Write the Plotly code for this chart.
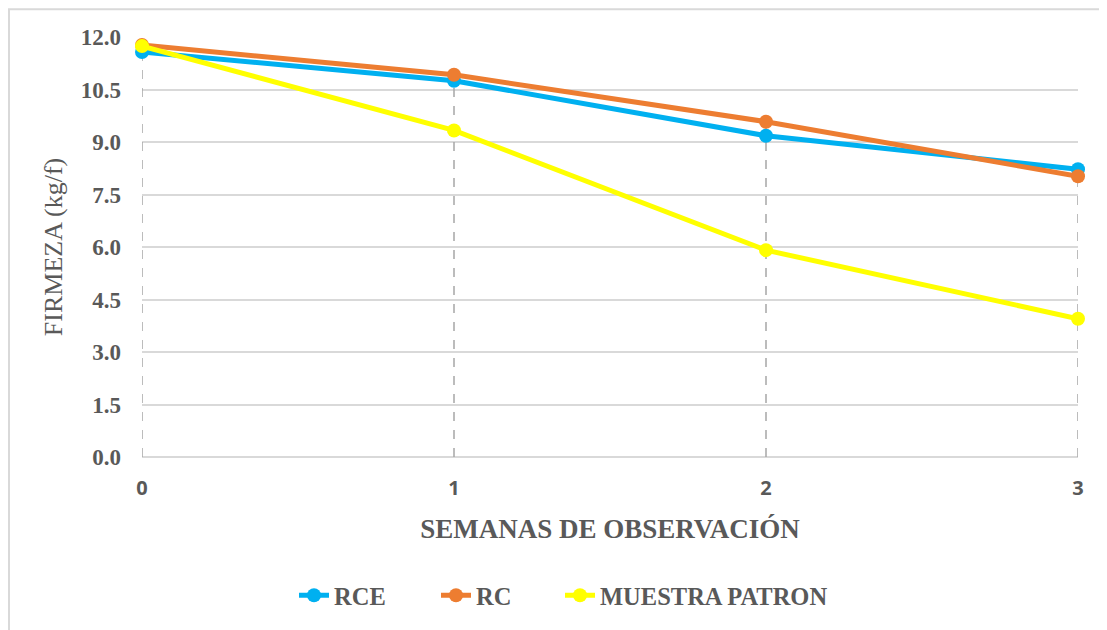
import plotly.graph_objects as go

# Weeks of observation
semanas = [0, 1, 2, 3]

# Firmness values (kg/f) per treatment
rce = [11.57, 10.75, 9.18, 8.22]
rc = [11.77, 10.92, 9.58, 8.02]
muestra_patron = [11.74, 9.33, 5.91, 3.95]

y_ticks = [0.0, 1.5, 3.0, 4.5, 6.0, 7.5, 9.0, 10.5, 12.0]

SERIES_COLORS = {
    "RCE": "#00B0F0",
    "RC": "#ED7D31",
    "MUESTRA PATRON": "#FFFF00",
}

TEXT_COLOR = "#595959"
SERIF = "Liberation Serif"

# page has an 8px body margin, so the figure is sized to fill the rest
W, H = 1099, 622
L, R, T, B = 134, 29, 29, 171

plot_w = W - L - R
plot_h = H - T - B

fig = go.Figure()

# Drop lines from the axis up to the highest point of each week
drop_x, drop_y = [], []
for i, s in enumerate(semanas):
    top = max(rce[i], rc[i], muestra_patron[i])
    drop_x += [s, s, None]
    drop_y += [0, top, None]

fig.add_trace(
    go.Scatter(
        x=drop_x,
        y=drop_y,
        mode="lines",
        line=dict(color="#A6A6A6", width=1.5, dash="dash"),
        showlegend=False,
        hoverinfo="skip",
        cliponaxis=False,
    )
)

# each series gets its own legend so the entries can be spaced like the original
legend_ids = ["legend", "legend2", "legend3"]
legend_left_px = [294, 436, 560]

for name, values, leg in zip(
    ["RCE", "RC", "MUESTRA PATRON"], [rce, rc, muestra_patron], legend_ids
):
    fig.add_trace(
        go.Scatter(
            x=semanas,
            y=values,
            name=name,
            mode="lines+markers",
            line=dict(color=SERIES_COLORS[name], width=5),
            marker=dict(color=SERIES_COLORS[name], size=14),
            cliponaxis=False,
            legend=leg,
        )
    )

legend_y = -(598 - 8 - T - plot_h) / plot_h
for leg, px in zip(legend_ids, legend_left_px):
    fig.update_layout(
        {
            leg: dict(
                orientation="h",
                xanchor="left",
                x=(px - 8 - L) / plot_w,
                yanchor="middle",
                y=legend_y,
                font=dict(family=SERIF, size=24.5, color=TEXT_COLOR, weight="bold"),
                itemwidth=30,
                bgcolor="rgba(0,0,0,0)",
            )
        }
    )

fig.update_layout(
    width=W,
    height=H,
    plot_bgcolor="white",
    paper_bgcolor="white",
    margin=dict(l=L, r=R, t=T, b=B),
    showlegend=True,
    xaxis=dict(
        range=[0, 3],
        tickvals=semanas,
        showgrid=False,
        zeroline=False,
        showline=False,
        ticks="",
        ticklabelstandoff=17,
        tickfont=dict(family="Open Sans", size=20, color=TEXT_COLOR, weight="bold"),
        title=dict(
            text="SEMANAS DE OBSERVACIÓN",
            font=dict(family=SERIF, size=27, color=TEXT_COLOR, weight="bold"),
            standoff=19,
        ),
    ),
    yaxis=dict(
        range=[0, 12],
        tickvals=y_ticks,
        tickformat=".1f",
        showgrid=True,
        gridcolor="#D9D9D9",
        gridwidth=1.5,
        zeroline=True,
        zerolinecolor="#D9D9D9",
        zerolinewidth=1.5,
        showline=False,
        ticks="",
        ticklabelstandoff=20,
        tickfont=dict(family=SERIF, size=23, color=TEXT_COLOR, weight="bold"),
        title=dict(
            text="FIRMEZA (kg/f)",
            font=dict(family=SERIF, size=26, color=TEXT_COLOR),
            standoff=10,
        ),
    ),
    shapes=[
        dict(
            type="rect",
            xref="paper",
            yref="paper",
            x0=(1 - L) / plot_w,
            x1=1.1,
            y0=-0.6,
            y1=(plot_h + T - 1) / plot_h,
            line=dict(color="#D9D9D9", width=2),
            fillcolor="rgba(0,0,0,0)",
            layer="below",
        )
    ],
)

fig.write_html("out.html")
